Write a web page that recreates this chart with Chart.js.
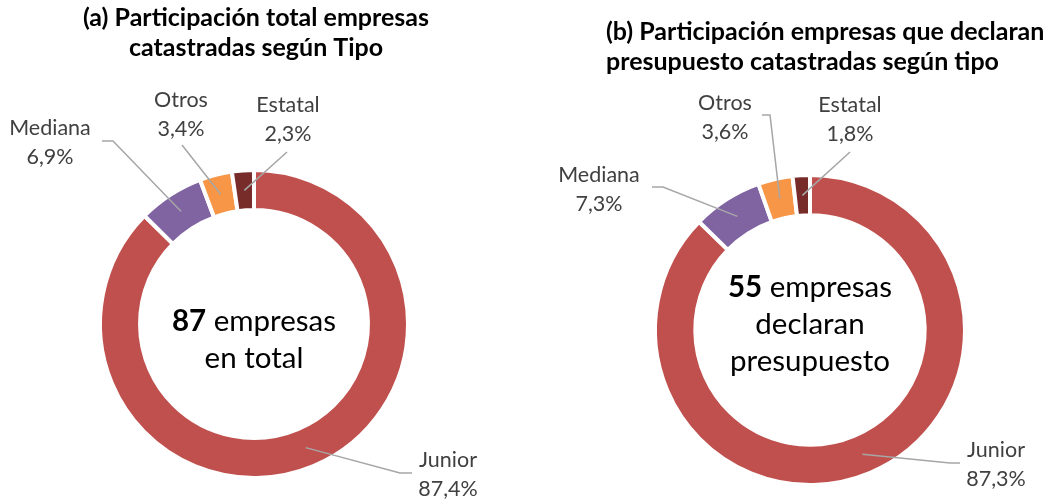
<!DOCTYPE html>
<html>
<head>
<meta charset="utf-8">
<script src="https://cdn.jsdelivr.net/npm/chart.js@4.4.0/dist/chart.umd.min.js"></script>
<style>
html,body{margin:0;padding:0;background:#fff}
#wrap{position:relative;width:1052px;height:501px}
#wrap canvas{position:absolute;left:0;top:0}
</style>
</head>
<body>
<div id="wrap">
<canvas id="chartA" width="1052" height="501"></canvas>
<canvas id="chartB" width="1052" height="501"></canvas>
</div>
<script>
let categories = ["Junior","Mediana","Otros","Estatal"]
let totalValues = [87.4, 6.9, 3.4, 2.3]
let budgetValues = [87.3, 7.3, 3.6, 1.8]
let sliceColors = ["#C0504D","#8064A2","#F79646","#772C2A"]

let titleA = ["(a) Participación total empresas","catastradas según Tipo"]
let titleB = ["(b) Participación empresas que declaran","presupuesto catastradas según tipo"]
let centerA = [["87"," empresas"],["","en total"]]
let centerB = [["55"," empresas"],["","declaran"],["","presupuesto"]]

let FONT = "Lato, 'Open Sans', sans-serif"

// where each label sits and how its leader line bends (page pixels)
let labelsA = [
{tx:448, ty:460, path:[[400,473],[412,473]]},
{tx:50, ty:128, path:[[113,141],[102,141]]},
{tx:181, ty:100, path:[[182,145]]},
{tx:288, ty:105, path:[[287,152]]}
]
let labelsB = [
{tx:996, ty:450, path:[[950,463],[960,463]]},
{tx:599, ty:175, path:[[663,187],[652,187]]},
{tx:725, ty:103, path:[[770,115],[762,115]]},
{tx:850, ty:105, path:[[850,152]]}
]

function pct(v){
return v.toFixed(1).replace(".", ",") + "%"
}

function makePlugin(title, titleX, titleAlign, titleY, center, centerY, labels){
return {
id:"decor",
afterDraw(chart){
let ctx = chart.ctx
let meta = chart.getDatasetMeta(0)
let values = chart.data.datasets[0].data
ctx.save()

// title
ctx.fillStyle = "#000"
ctx.font = "bold 25px " + FONT
ctx.textAlign = titleAlign
ctx.textBaseline = "middle"
title.forEach((t,i)=>ctx.fillText(t, titleX, titleY + i*29.5))

// leader lines + labels
meta.data.forEach((arc,i)=>{
let p = arc.getProps(["x","y","startAngle","endAngle","innerRadius","outerRadius"], true)
let mid = (p.startAngle + p.endAngle)/2
let r = (p.innerRadius + p.outerRadius)/2
let ax = p.x + Math.cos(mid)*r
let ay = p.y + Math.sin(mid)*r
let lb = labels[i]
ctx.strokeStyle = "#A6A6A6"
ctx.lineWidth = 1.5
ctx.beginPath()
ctx.moveTo(ax, ay)
lb.path.forEach(pt=>ctx.lineTo(pt[0], pt[1]))
ctx.stroke()

ctx.fillStyle = "#404040"
ctx.font = "21.5px " + FONT
ctx.textAlign = "center"
ctx.textBaseline = "middle"
ctx.fillText(categories[i], lb.tx, lb.ty)
ctx.fillText(pct(values[i]), lb.tx, lb.ty + 29)
})

// center text
let cx = meta.data[0].x
ctx.fillStyle = "#000"
ctx.textBaseline = "middle"
center.forEach((parts,i)=>{
let y = centerY + i*37
ctx.font = "bold 29.5px " + FONT
let w1 = ctx.measureText(parts[0]).width
ctx.font = "29.5px " + FONT
let w2 = ctx.measureText(parts[1]).width
let x0 = cx - (w1 + w2)/2
ctx.textAlign = "left"
ctx.font = "bold 29.5px " + FONT
ctx.fillText(parts[0], x0, y)
ctx.font = "29.5px " + FONT
ctx.fillText(parts[1], x0 + w1, y)
})
ctx.restore()
}
}
}

function makeDoughnut(id, values, padding, plugin){
return new Chart(document.getElementById(id),{
type:"doughnut",
data:{
labels:categories,
datasets:[{
data:values,
backgroundColor:sliceColors,
borderColor:"#ffffff",
borderWidth:4
}]
},
options:{
responsive:false,
animation:false,
cutout:"74%",
layout:{padding:padding},
plugins:{
legend:{display:false},
tooltip:{enabled:false}
},
events:[]
},
plugins:[plugin]
})
}

makeDoughnut("chartA", totalValues,
{left:98, right:642, top:168, bottom:21},
makePlugin(titleA, 256, "center", 18, centerA, 321, labelsA))

makeDoughnut("chartB", budgetValues,
{left:653, right:85, top:173, bottom:14},
makePlugin(titleB, 606, "left", 32, centerB, 287, labelsB))
</script>
</body>
</html>
